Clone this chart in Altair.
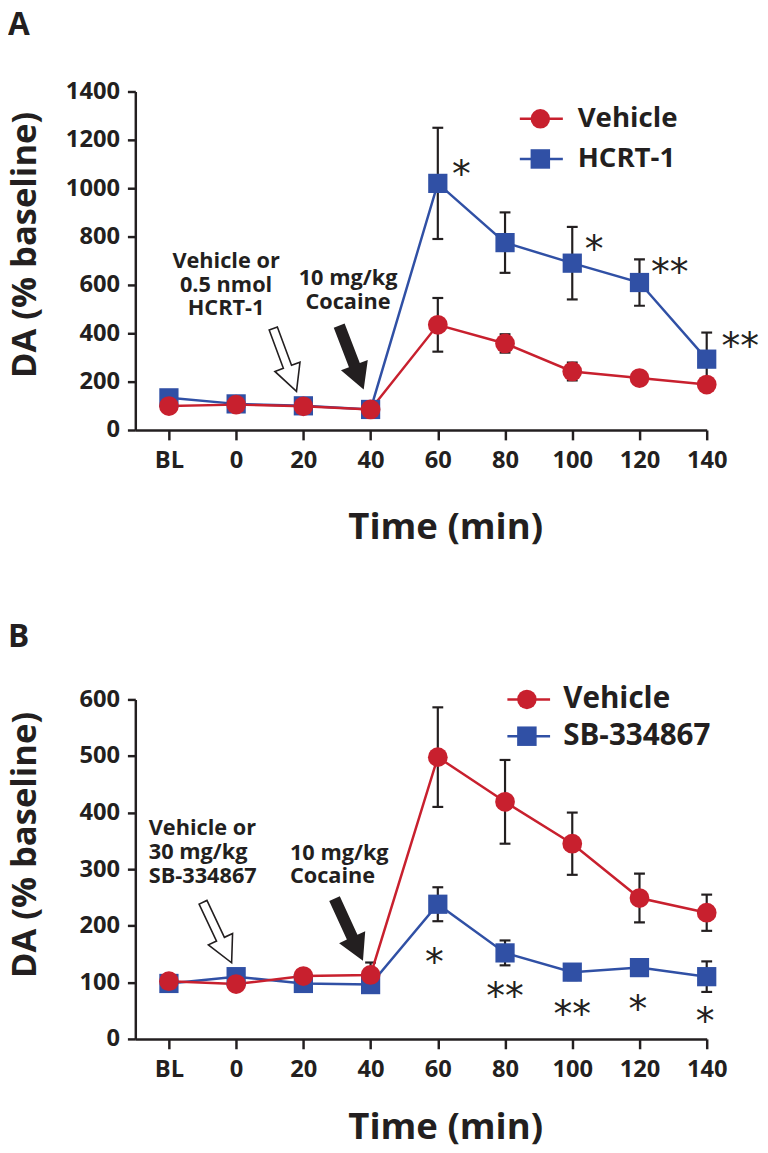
import altair as alt
import pandas as pd

# ---------------- data ----------------
TIMES = [-20, 0, 20, 40, 60, 80, 100, 120, 140]
TICK_LABELS = ["BL", "0", "20", "40", "60", "80", "100", "120", "140"]

A_VEH_MEAN = [99, 105, 98, 85, 435, 358, 242, 215, 188]
A_VEH_SEM = [0, 0, 0, 0, 111, 38, 37, 12, 10]
A_HCRT_MEAN = [133, 108, 100, 85, 1020, 775, 690, 610, 293]
A_HCRT_SEM = [0, 0, 0, 0, 230, 125, 150, 96, 110]

B_VEH_MEAN = [102, 97, 111, 113, 498, 419, 345, 249, 223]
B_VEH_SEM = [0, 0, 4, 22, 88, 74, 55, 43, 32]
B_SB_MEAN = [98, 110, 98, 96, 238, 152, 118, 126, 110]
B_SB_SEM = [0, 0, 4, 0, 30, 22, 14, 14, 27]

A_SERIES = ["Vehicle", "HCRT-1"]
B_SERIES = ["Vehicle", "SB-334867"]

A_STAR_TEXT = ["*", "*", "**", "**"]
A_STAR_X = [67, 106.5, 129, 150]
A_STAR_Y = [1091, 780, 685, 381]
B_STAR_TEXT = ["*", "**", "**", "*", "*"]
B_STAR_X = [59, 80, 100, 119.5, 139.5]
B_STAR_Y = [149, 90, 58, 67, 46]

A_NOTE_TEXT = ["Vehicle or", "0.5 nmol", "HCRT-1", "10 mg/kg", "Cocaine"]
A_NOTE_X = [-3, -3, -3, 33.3, 33.3]
A_NOTE_Y = [671, 569, 476, 598, 500]
B_NOTE_TEXT = ["Vehicle or", "30 mg/kg", "SB-334867", "10 mg/kg", "Cocaine"]
B_NOTE_X = [-26, -26, -26, 16, 16]
B_NOTE_Y = [360, 318, 275, 317, 275]

# arrows: [hollow (treatment), solid (cocaine)]
A_ARROW_X = [14.5, 34.3]
A_ARROW_Y = [290, 300]
A_ARROW_ANGLE = [339.7, 339]
B_ARROW_X = [-5.6, 33.5]
B_ARROW_Y = [188, 193]
B_ARROW_ANGLE = [334.7, 335.4]

A_LEG_Y = [1287, 1121]
A_LEG_X = [84.4, 90.5, 97.2, 101.6]   # line start, symbol, line end, text
B_LEG_Y = [600, 535]
B_LEG_X = [80.7, 86.5, 93.4, 97.3]

# ---------------- style ----------------
FONT = "Open Sans"
INK = "#231F20"
RED = "#C8202E"
BLUE = "#3050A5"

HOLLOW_PATH = "M -0.13 -1 L 0.13 -1 L 0.13 0.22 L 0.4 0.22 L 0 1 L -0.4 0.22 L -0.13 0.22 Z"
SOLID_PATH = "M -0.17 -1 L 0.17 -1 L 0.17 0.24 L 0.42 0.24 L 0 1 L -0.42 0.24 L -0.17 0.24 Z"


def label_expr():
    s = ""
    for t, l in zip(TIMES, TICK_LABELS):
        s += f"datum.value == {t} ? '{l}' : "
    return s + "datum.label"


def series_df(means, sems):
    return pd.DataFrame({
        "t": TIMES, "m": means, "s": sems,
        "lo": [m - s for m, s in zip(means, sems)],
        "hi": [m + s for m, s in zip(means, sems)],
    })


def panel(letter, height, ymax, ystep, series, stars, notes, note_align,
          arrows, legend, ytitle_y, xtitle_y, title_offset):
    xsc = alt.Scale(domain=[-30, 140], nice=False, zero=False)
    ysc = alt.Scale(domain=[0, ymax], nice=False, zero=True)
    xax = alt.Axis(values=TIMES, labelExpr=label_expr(), title="Time (min)",
                   titleX=314, titleY=xtitle_y, titleAlign="center",
                   titleBaseline="alphabetic", titleFont=FONT, titleFontSize=37,
                   titleFontWeight="bold", titleColor=INK,
                   labelFont=FONT, labelFontSize=24, labelFontWeight="bold",
                   labelColor=INK, labelPadding=9, labelFlush=False,
                   labelOverlap=False, tickSize=10, tickWidth=2.5,
                   tickColor=INK, domainColor=INK, domainWidth=2.5, grid=False)
    yax = alt.Axis(values=list(range(0, ymax + 1, ystep)), format="d",
                   title="DA (% baseline)",
                   titleAngle=270, titleX=-101, titleY=ytitle_y,
                   titleAlign="center", titleBaseline="alphabetic",
                   titleFont=FONT, titleFontSize=35, titleFontWeight="bold",
                   titleColor=INK, labelFont=FONT, labelFontSize=24,
                   labelFontWeight="bold", labelColor=INK, labelPadding=8,
                   labelFlush=False, tickSize=8, tickWidth=2.5, tickColor=INK,
                   domainColor=INK, domainWidth=2.5, grid=False)

    def X(f):
        return alt.X(f, type="quantitative", scale=xsc, axis=xax)

    def Y(f):
        return alt.Y(f, type="quantitative", scale=ysc, axis=yax)

    layers = []
    # error bars
    for df, _, _ in series:
        e = df[df.s > 0]
        b = alt.Chart(e)
        layers.append(b.mark_rule(color=INK, strokeWidth=2.2).encode(x=X("t"), y=Y("lo"), y2="hi"))
        layers.append(b.mark_tick(orient="horizontal", color=INK, thickness=2.2, size=11, opacity=1)
                      .encode(x=X("t"), y=Y("hi")))
        layers.append(b.mark_tick(orient="horizontal", color=INK, thickness=2.2, size=11, opacity=1)
                      .encode(x=X("t"), y=Y("lo")))
    # lines (treatment first, vehicle on top)
    for df, color, _ in reversed(series):
        layers.append(alt.Chart(df).mark_line(color=color, strokeWidth=2.5).encode(x=X("t"), y=Y("m")))
    for df, color, shape in reversed(series):
        layers.append(alt.Chart(df).mark_point(shape=shape, filled=True, fill=color,
                                               size=400 if shape == "circle" else 380,
                                               opacity=1, strokeWidth=0)
                      .encode(x=X("t"), y=Y("m")))
    # stars
    sd = pd.DataFrame({"label": stars[0], "x": stars[1], "y": stars[2]})
    layers.append(alt.Chart(sd).mark_text(font="DejaVu Sans", fontSize=38,
                                          color=INK, dy=10)
                  .encode(x=X("x"), y=Y("y"), text="label:N"))
    # notes
    nd = pd.DataFrame({"label": notes[0], "x": notes[1], "y": notes[2]})
    layers.append(alt.Chart(nd).mark_text(font=FONT, fontSize=22, fontWeight="bold", color=INK,
                                          align=note_align, baseline="alphabetic")
                  .encode(x=X("x"), y=Y("y"), text="label:N"))
    # arrows
    ad = pd.DataFrame({"x": arrows[0], "y": arrows[1], "angle": arrows[2]})
    layers.append(alt.Chart(ad.iloc[[0]]).mark_point(shape=HOLLOW_PATH, filled=True, fill="white",
                                                     stroke=INK, strokeWidth=1.6, size=4600, opacity=1)
                  .encode(x=X("x"), y=Y("y"), angle=alt.Angle("angle:Q", scale=None)))
    layers.append(alt.Chart(ad.iloc[[1]]).mark_point(shape=SOLID_PATH, filled=True, fill=INK,
                                                     strokeWidth=0, size=4800, opacity=1)
                  .encode(x=X("x"), y=Y("y"), angle=alt.Angle("angle:Q", scale=None)))
    # legend
    names = legend[0]
    lx = legend[2]
    ld = pd.DataFrame({"label": names, "y": legend[1],
                       "x0": [lx[0]] * 2, "xs": [lx[1]] * 2, "x1": [lx[2]] * 2, "xt": [lx[3]] * 2})
    cs = alt.Scale(domain=names, range=[RED, BLUE])
    ss = alt.Scale(domain=names, range=["circle", "square"])
    layers.append(alt.Chart(ld).mark_rule(strokeWidth=2.5).encode(
        x=X("x0"), x2="x1", y=Y("y"), color=alt.Color("label:N", scale=cs, legend=None)))
    layers.append(alt.Chart(ld).mark_point(filled=True, size=390, opacity=1, strokeWidth=0).encode(
        x=X("xs"), y=Y("y"), color=alt.Color("label:N", scale=cs, legend=None),
        shape=alt.Shape("label:N", scale=ss, legend=None)))
    layers.append(alt.Chart(ld).mark_text(font=FONT, fontWeight="bold", fontSize=legend[3], color=INK,
                                          align="left", baseline="middle").encode(
        x=X("xt"), y=Y("y"), text="label:N"))

    return alt.layer(*layers).properties(
        width=579, height=height,
        title=alt.TitleParams(letter, anchor="start", frame="bounds", font=FONT, fontSize=32,
                              fontWeight="bold", color=INK, offset=title_offset),
    )


chart_a = panel("A", 343, 1400, 200,
                [(series_df(A_VEH_MEAN, A_VEH_SEM), RED, "circle"),
                 (series_df(A_HCRT_MEAN, A_HCRT_SEM), BLUE, "square")],
                (A_STAR_TEXT, A_STAR_X, A_STAR_Y),
                (A_NOTE_TEXT, A_NOTE_X, A_NOTE_Y), "center",
                (A_ARROW_X, A_ARROW_Y, A_ARROW_ANGLE),
                (A_SERIES, A_LEG_Y, A_LEG_X, 28), 155, 110, 38)

chart_b = panel("B", 344, 600, 100,
                [(series_df(B_VEH_MEAN, B_VEH_SEM), RED, "circle"),
                 (series_df(B_SB_MEAN, B_SB_SEM), BLUE, "square")],
                (B_STAR_TEXT, B_STAR_X, B_STAR_Y),
                (B_NOTE_TEXT, B_NOTE_X, B_NOTE_Y), "left",
                (B_ARROW_X, B_ARROW_Y, B_ARROW_ANGLE),
                (B_SERIES, B_LEG_Y, B_LEG_X, 30), 147, 101, 31)

chart = alt.vconcat(chart_a, chart_b, spacing=77).resolve_scale(
    color="independent", shape="independent", x="independent", y="independent"
).properties(
    padding={"left": 0, "top": -6, "right": 0, "bottom": 0}
).configure_view(stroke=None)

chart.save("out.html", embed_options={"renderer": "svg", "actions": False})
